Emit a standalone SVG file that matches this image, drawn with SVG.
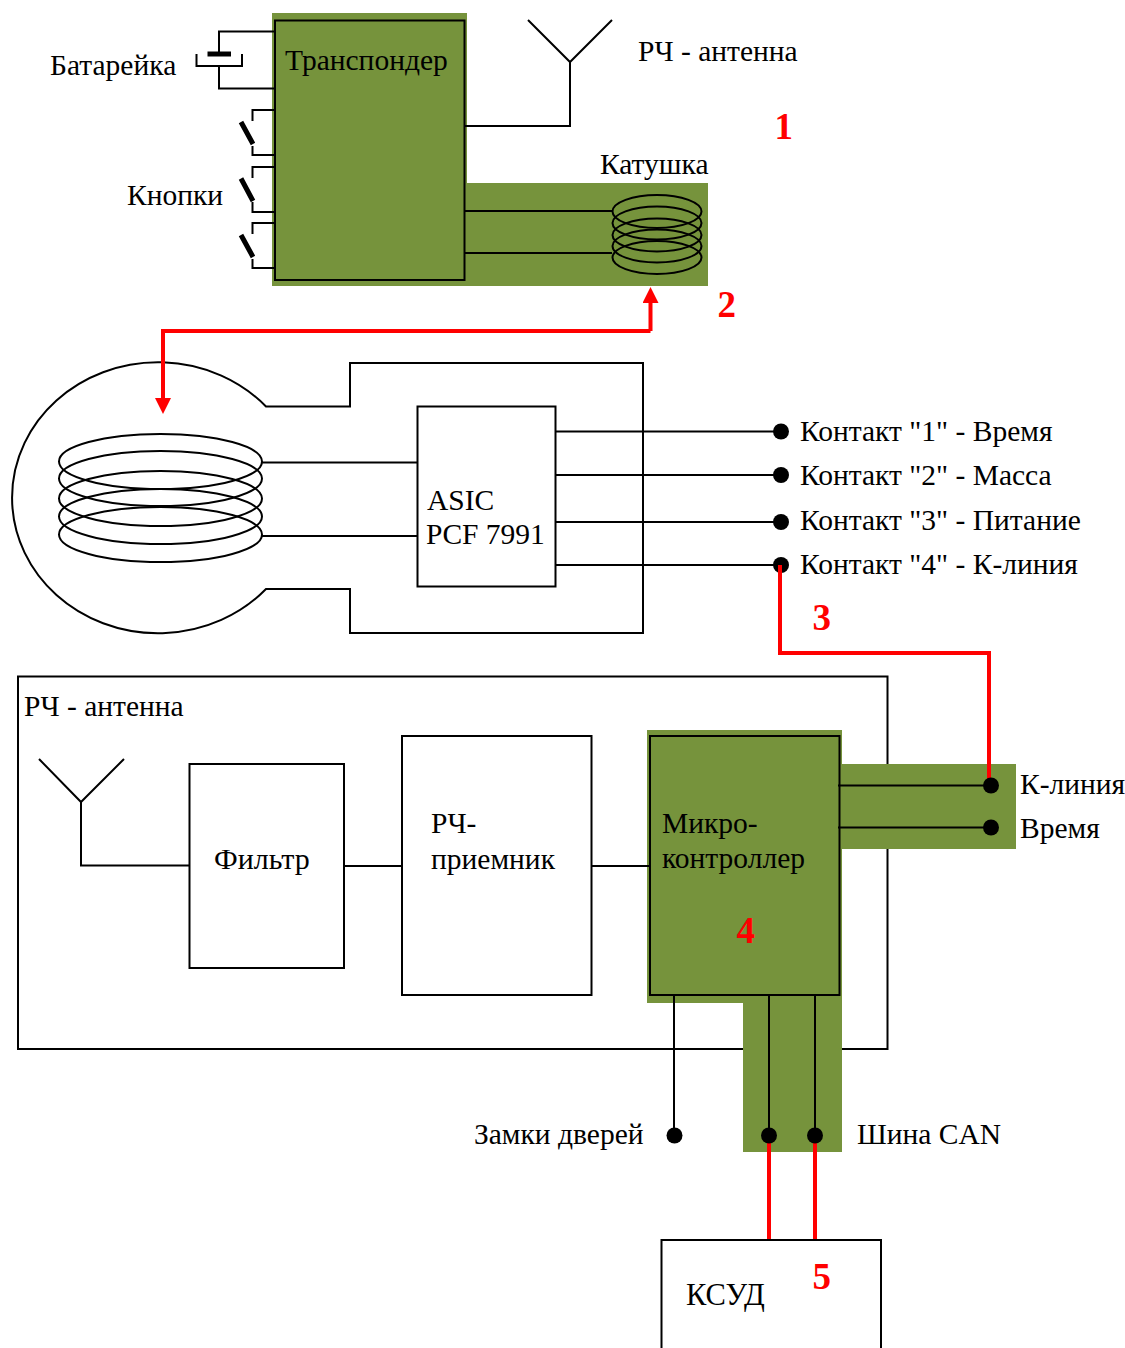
<svg xmlns="http://www.w3.org/2000/svg" width="1125" height="1348" viewBox="0 0 1125 1348">
<style>
.w{fill:none;stroke:#000;stroke-width:2}
.b{fill:#fff;stroke:#000;stroke-width:2}
.g{fill:#76933c}
.r{fill:none;stroke:#f00;stroke-width:4}
.t{font-family:"Liberation Serif",serif;font-size:29.500px;fill:#000}
.n{font-family:"Liberation Serif",serif;font-size:37px;font-weight:bold;fill:#f00}
.d{fill:#000}
</style>
<defs><marker id="a" markerUnits="userSpaceOnUse" markerWidth="16" markerHeight="16" refX="0" refY="8" orient="auto"><path d="M0 0L16 8L0 16Z" fill="#f00"/></marker></defs>
<rect width="1125" height="1348" fill="#fff"/>
<g id="transponder">
<rect class="g" x="272" y="13" width="195" height="273"/>
<rect class="g" x="465" y="183" width="243" height="103"/>
<rect x="275" y="20.500" width="189.500" height="259.500" fill="none" stroke="#000" stroke-width="2"/>
<text class="t" x="285" y="70">Транспондер</text>
</g>
<g id="battery">
<path class="w" d="M275 31.500H219V54M219 66V88.500H275M196.500 54V66H242V54"/>
<path d="M207.500 54H231" stroke="#000" stroke-width="5" fill="none"/>
<text class="t" x="50" y="75">Батарейка</text>
</g>
<g id="buttons">
<path class="w" d="M275 110H252.500V121M252.500 146V155H275M275 167H252.500V178M252.500 202V212H275M275 223H252.500V234M252.500 259V268H275"/>
<path d="M241 122L253 144M241 178.500L253 201M241 235L253 257" stroke="#000" stroke-width="5" fill="none"/>
<text class="t" x="127" y="205">Кнопки</text>
</g>
<g id="rf-antenna-1">
<path class="w" d="M528 20L570 62L612 20M570 62V126H465"/>
<text class="t" x="638" y="61">РЧ - антенна</text>
</g>
<g id="coil-1">
<path class="w" d="M465 211H612M465 253H612"/>
<ellipse class="w" cx="657" cy="211.500" rx="44.500" ry="16.500"/>
<ellipse class="w" cx="657" cy="223" rx="44.500" ry="16.500"/>
<ellipse class="w" cx="657" cy="235" rx="44.500" ry="16.500"/>
<ellipse class="w" cx="657" cy="246" rx="44.500" ry="16.500"/>
<ellipse class="w" cx="657" cy="257.500" rx="44.500" ry="16.500"/>
<text class="t" x="600" y="174">Катушка</text>
</g>
<g id="key-body">
<path class="w" d="M266 406.500H350V363H643V633H350V589H266A146 135.500 0 1 1 266 406.500Z"/>
</g>
<g id="coil-2">
<path class="w" d="M262 462.500H417M262 536H417"/>
<ellipse class="w" cx="160.500" cy="461.500" rx="101.500" ry="27.500"/>
<ellipse class="w" cx="160.500" cy="478.500" rx="101.500" ry="27.500"/>
<ellipse class="w" cx="160.500" cy="498.500" rx="101.500" ry="27.500"/>
<ellipse class="w" cx="160.500" cy="516.500" rx="101.500" ry="27.500"/>
<ellipse class="w" cx="160.500" cy="534.500" rx="101.500" ry="27.500"/>
</g>
<g id="asic">
<rect class="b" x="417.500" y="406.500" width="138" height="180"/>
<text class="t" x="427" y="510">ASIC</text>
<text class="t" x="426" y="544">PCF 7991</text>
</g>
<g id="contacts">
<path class="w" d="M555 431.500H781M555 475H781M555 522H781M555 565H781"/>
<circle class="d" cx="781" cy="431.500" r="8"/>
<circle class="d" cx="781" cy="475" r="8"/>
<circle class="d" cx="781" cy="522" r="8"/>
<circle class="d" cx="781" cy="565" r="8"/>
<text class="t" x="800" y="441">Контакт "1" - Время</text>
<text class="t" x="800" y="485">Контакт "2" - Масса</text>
<text class="t" x="800" y="530">Контакт "3" - Питание</text>
<text class="t" x="800" y="574">Контакт "4" - К-линия</text>
</g>
<g id="receiver-box">
<rect class="w" x="18" y="676.500" width="869.500" height="372.500"/>
<text class="t" x="24" y="716">РЧ - антенна</text>
</g>
<g id="mcu-bg">
<rect class="g" x="647" y="730" width="195" height="273"/>
<rect class="g" x="743" y="1000" width="99" height="152"/>
<rect class="g" x="838" y="764" width="178" height="85"/>
</g>
<g id="rf-antenna-2">
<path class="w" d="M39 759L81 802L124 759M81 802V865.500H189"/>
</g>
<g id="filter">
<rect class="b" x="189.500" y="764" width="154.500" height="204"/>
<text class="t" x="214" y="869" style="font-size:30px">Фильтр</text>
</g>
<g id="rf-receiver">
<rect class="b" x="402" y="736" width="189.500" height="259"/>
<text class="t" x="431" y="833">РЧ-</text>
<text class="t" x="431" y="869">приемник</text>
</g>
<g id="mcu">
<rect x="650" y="736" width="189.500" height="259" fill="none" stroke="#000" stroke-width="2"/>
<text class="t" x="662" y="833">Микро-</text>
<text class="t" x="662" y="868">контроллер</text>
</g>
<g id="connectors">
<path class="w" d="M344 866H402M591.500 866H650"/>
<path class="w" d="M838 785.500H991M838 827.500H991M674 995V1135M769 995V1135M815 995V1135"/>
<path class="r" d="M650.500 331V303" marker-end="url(#a)"/>
<path class="r" d="M650.500 331H163V398" marker-end="url(#a)"/>
<path class="r" d="M780 565V653H989V785"/>
<path class="r" d="M769 1135V1240M815 1135V1240"/>
</g>
<g id="outputs">
<circle class="d" cx="991" cy="785.500" r="8"/>
<circle class="d" cx="991" cy="827.500" r="8"/>
<circle class="d" cx="674.500" cy="1135.500" r="8"/>
<circle class="d" cx="769" cy="1135.500" r="8"/>
<circle class="d" cx="815" cy="1135.500" r="8"/>
<text class="t" x="1020" y="794">К-линия</text>
<text class="t" x="1020" y="838">Время</text>
<text class="t" x="474" y="1144">Замки дверей</text>
<text class="t" x="857" y="1144">Шина CAN</text>
</g>
<g id="ksud">
<path class="w" d="M661.500 1348V1240H881V1348"/>
<text class="t" x="686" y="1305" style="font-size:30.500px">КСУД</text>
</g>
<g id="numbers">
<text class="n" x="774.500" y="139">1</text>
<text class="n" x="717.500" y="317">2</text>
<text class="n" x="812.500" y="630">3</text>
<text class="n" x="736.500" y="943">4</text>
<text class="n" x="812.500" y="1289">5</text>
</g>
</svg>
